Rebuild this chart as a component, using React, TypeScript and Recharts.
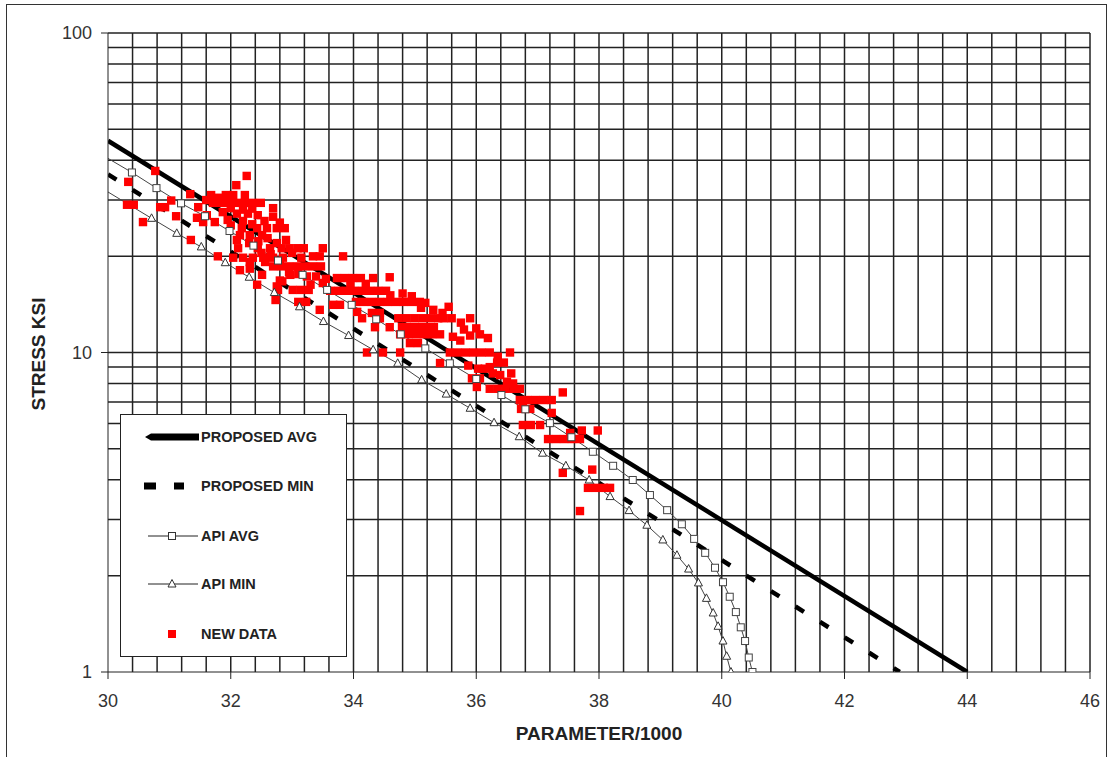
import { ComposedChart, Line, Scatter, XAxis, YAxis, ReferenceLine } from 'recharts';

const FONT = '"Liberation Sans", Arial, sans-serif';

// axis ticks and grid
const X_TICKS = [30, 32, 34, 36, 38, 40, 42, 44, 46];
const Y_TICKS = [1, 10, 100];
const GRID_X = [
  30.4, 30.8, 31.2, 31.6, 32, 32.4, 32.8, 33.2, 33.6, 34, 34.4, 34.8, 35.2, 35.6, 36,
  36.4, 36.8, 37.2, 37.6, 38, 38.4, 38.8, 39.2, 39.6, 40, 40.4, 40.8, 41.2, 41.6, 42,
  42.4, 42.8, 43.2, 43.6, 44, 44.4, 44.8, 45.2, 45.6, 46,
];
const GRID_Y = [2, 3, 4, 5, 6, 7, 8, 9, 10, 20, 30, 40, 50, 60, 70, 80, 90, 100];

// [parameter/1000, stress ksi]
const PROPOSED_AVG: [number, number][] = [[30, 46], [44, 1]];
const PROPOSED_MIN: [number, number][] = [[30, 36.1], [42.9, 1]];

const API_AVG: [number, number][] = [
  [30, 40.5], [30.39, 36.6], [30.79, 32.7], [31.19, 29.3], [31.58, 26.7], [31.98, 24.0],
  [32.37, 21.6], [32.77, 19.4], [33.17, 17.5], [33.57, 15.7], [33.97, 14.1], [34.37, 12.7],
  [34.77, 11.4], [35.17, 10.3], [35.57, 9.25], [36.0, 8.26], [36.41, 7.36], [36.8, 6.64],
  [37.2, 6.01], [37.55, 5.43], [37.9, 4.89], [38.23, 4.42], [38.55, 3.99], [38.83, 3.58],
  [39.11, 3.21], [39.35, 2.9], [39.55, 2.61], [39.73, 2.36], [39.89, 2.12], [40.02, 1.91],
  [40.13, 1.72], [40.23, 1.54], [40.31, 1.38], [40.38, 1.25], [40.44, 1.11], [40.5, 1.0],
];

const API_MIN: [number, number][] = [
  [30, 31.8], [30.71, 26.3], [31.12, 23.6], [31.52, 21.4], [31.91, 19.1], [32.3, 17.2],
  [32.71, 15.4], [33.12, 13.9], [33.51, 12.5], [33.92, 11.3], [34.32, 10.2], [34.72, 9.25],
  [35.11, 8.21], [35.51, 7.41], [35.9, 6.69], [36.29, 6.03], [36.7, 5.45], [37.08, 4.84],
  [37.46, 4.42], [37.84, 3.99], [38.18, 3.54], [38.49, 3.2], [38.78, 2.88], [39.04, 2.59],
  [39.27, 2.32], [39.46, 2.1], [39.62, 1.9], [39.75, 1.7], [39.86, 1.53], [39.94, 1.39],
  [40.02, 1.25], [40.08, 1.12], [40.15, 1.0],
];

const NEW_DATA: [number, number][] = [
  [30.31, 29.0], [30.42, 29.0], [30.33, 34.2], [30.77, 37.0], [30.57, 25.6], [30.85, 28.5],
  [30.93, 28.5], [31.03, 29.9], [31.11, 26.7], [31.34, 31.3], [31.35, 22.5],
  [31.68, 31.1], [31.92, 31.1], [32.04, 31.1], [32.23, 31.1], [32.09, 33.4], [32.26, 35.7],
  [31.71, 29.4], [31.84, 29.4], [31.97, 29.4], [32.1, 29.4], [32.23, 29.4], [32.36, 29.4], [32.49, 29.4],
  [32.69, 28.3], [31.6, 30.0], [31.8, 30.5], [32.0, 28.3], [32.2, 28.0], [32.35, 28.2],
  [31.47, 28.5], [31.45, 26.4], [31.61, 26.9], [31.55, 25.6], [31.74, 25.6], [31.87, 27.5],
  [32.1, 27.2], [32.28, 27.2], [32.44, 26.9], [32.69, 26.6],
  [31.95, 26.0], [32.2, 25.8], [32.35, 25.2], [32.0, 25.0], [32.55, 25.8], [32.8, 25.5],
  [32.18, 24.5], [32.43, 24.5], [32.59, 24.5], [32.75, 24.5], [32.88, 24.5],
  [32.1, 22.5], [32.15, 23.3], [32.31, 23.3], [32.51, 23.3],
  [32.3, 22.0], [32.45, 22.3], [32.6, 22.8], [32.75, 22.0], [32.9, 22.5],
  [32.12, 21.2], [32.44, 21.2], [32.64, 21.2], [32.83, 21.2], [32.96, 21.2], [33.09, 21.2],
  [33.19, 21.2], [33.5, 21.2],
  [31.79, 20.0], [32.04, 19.8], [32.2, 19.8], [32.36, 19.8], [32.53, 19.8], [32.69, 19.8],
  [32.85, 19.8], [33.34, 20.0], [33.45, 20.0], [33.83, 20.0],
  [32.5, 20.5], [32.65, 20.3], [33.0, 20.5], [33.15, 19.8],
  [32.31, 19.2], [32.56, 19.2], [32.8, 19.2],
  [32.15, 18.1], [32.31, 18.3], [32.69, 18.6], [32.82, 18.6], [32.95, 18.6], [33.08, 18.6],
  [33.21, 18.6], [33.34, 18.6], [33.47, 18.6],
  [32.51, 17.5], [32.97, 17.5], [32.95, 17.8], [33.1, 17.6], [33.55, 17.0],
  [32.43, 16.3], [32.75, 16.1], [32.8, 16.8], [33.24, 17.3], [33.39, 17.3], [33.73, 17.1],
  [33.86, 17.1], [33.99, 17.1], [34.12, 17.1], [34.32, 17.1], [34.59, 17.2], [32.84, 16.7],
  [32.77, 15.7], [33.3, 16.3], [33.5, 16.5], [33.95, 16.2], [34.2, 16.4],
  [33.01, 15.7], [33.14, 15.7], [33.27, 15.7], [33.62, 15.6], [33.75, 15.6], [33.88, 15.6],
  [34.01, 15.6], [34.14, 15.6], [34.27, 15.6], [34.4, 15.6], [34.53, 15.6],
  [34.6, 15.1], [34.8, 15.3], [34.95, 15.0],
  [32.73, 14.6], [33.1, 14.4], [33.23, 14.4], [33.45, 13.6], [33.67, 14.1], [33.78, 14.1],
  [34.04, 14.4], [34.17, 14.4], [34.3, 14.4], [34.43, 14.4], [34.56, 14.4], [34.69, 14.4],
  [34.82, 14.4], [34.95, 14.4], [35.08, 14.4], [35.17, 14.3],
  [34.06, 13.4], [34.14, 12.8], [34.3, 13.3], [34.43, 13.3], [34.43, 12.8],
  [35.1, 13.8], [35.3, 13.6], [35.45, 13.3], [35.55, 13.9],
  [34.73, 12.8], [34.86, 12.8], [34.99, 12.8], [35.12, 12.8], [35.25, 12.8], [35.38, 12.8],
  [35.47, 12.8], [35.6, 12.8], [35.9, 12.8], [35.75, 12.4],
  [34.35, 12.0], [34.59, 12.0], [34.79, 12.0], [34.92, 12.0], [35.05, 12.0], [35.18, 12.0], [35.31, 12.0],
  [35.8, 11.8], [36.0, 11.9],
  [34.76, 11.4], [34.89, 11.4], [35.02, 11.4], [35.15, 11.4], [35.28, 11.4], [35.41, 11.4],
  [35.62, 11.2], [35.74, 10.9], [35.9, 11.3], [36.06, 11.4], [36.19, 11.1],
  [34.92, 10.7], [35.05, 10.7],
  [34.22, 10.0], [34.48, 10.0], [34.76, 10.0],
  [35.57, 10.0], [35.7, 10.0], [35.83, 10.0], [35.96, 10.0], [36.09, 10.0], [36.22, 10.0], [36.55, 10.0],
  [35.41, 9.27], [36.35, 9.7], [36.45, 9.3],
  [35.87, 9.1], [36.03, 8.9], [36.22, 9.0], [36.34, 9.3], [35.93, 8.3], [36.06, 8.3], [36.01, 7.8],
  [36.14, 8.9], [36.27, 8.6], [36.39, 8.5], [36.57, 8.6], [36.5, 8.1], [36.6, 8.0],
  [36.22, 7.7], [36.35, 7.7], [36.48, 7.7], [36.61, 7.7], [36.71, 7.7],
  [36.71, 7.1], [36.84, 7.1], [36.97, 7.1], [37.1, 7.1], [37.23, 7.1],
  [36.76, 6.8], [36.73, 6.66], [36.88, 6.66], [37.23, 6.47],
  [36.76, 5.93], [36.89, 5.93], [37.04, 5.93],
  [37.41, 7.5],
  [37.17, 5.36], [37.3, 5.36], [37.43, 5.36], [37.56, 5.36], [37.69, 5.36],
  [37.53, 5.6], [37.72, 5.7], [37.98, 5.7],
  [37.89, 4.3], [37.41, 4.2],
  [37.82, 3.77], [37.95, 3.77], [38.08, 3.77], [38.18, 3.77],
  [37.69, 3.19],
];

const toRows = (pts: [number, number][]) => pts.map(([x, y]) => ({ x, y }));

const squareDot = (props: any) => {
  const { cx, cy, index } = props;
  if (index === 0 || cx == null) return <g key={`s${index}`} />;
  return <rect key={`s${index}`} x={cx - 3.5} y={cy - 3.5} width={7} height={7} fill="#fff" stroke="#444" strokeWidth={1} />;
};

const triangleDot = (props: any) => {
  const { cx, cy, index } = props;
  if (index === 0 || cx == null) return <g key={`t${index}`} />;
  return (
    <polygon
      key={`t${index}`}
      points={`${cx},${cy - 4.5} ${cx - 4},${cy + 3} ${cx + 4},${cy + 3}`}
      fill="#fff"
      stroke="#333"
      strokeWidth={1}
    />
  );
};

const redSquare = (props: any) => {
  const { cx, cy } = props;
  return <rect x={cx - 4.2} y={cy - 4.2} width={8.4} height={8.4} fill="#ff0000" />;
};

function LegendBox() {
  const text = { fontFamily: FONT, fontSize: 14.5, fontWeight: 700, fill: '#222' } as const;
  return (
    <div style={{
      position: 'absolute', left: 120, top: 414, width: 227, height: 243,
      border: '1.5px solid #222', background: '#fff', boxSizing: 'border-box',
    }}>
      <svg width={227} height={243} style={{ position: 'absolute', left: -1.5, top: -1.5 }}>
        <polygon points="25,23 31,19.5 79,19.5 79,26.5 31,26.5" fill="#000" />
        <text x={81} y={23} dominantBaseline="central" {...text}>PROPOSED AVG</text>

        <rect x={24} y={68.5} width={12} height={7} fill="#000" />
        <rect x={54} y={68.5} width={10} height={7} fill="#000" />
        <text x={81} y={72} dominantBaseline="central" {...text}>PROPOSED MIN</text>

        <line x1={28} x2={78} y1={122} y2={122} stroke="#222" strokeWidth={1} />
        <rect x={48.5} y={118.5} width={7} height={7} fill="#fff" stroke="#333" />
        <text x={81} y={122} dominantBaseline="central" {...text}>API AVG</text>

        <line x1={28} x2={78} y1={170} y2={170} stroke="#222" strokeWidth={1} />
        <polygon points="52,165.5 48,173 56,173" fill="#fff" stroke="#333" />
        <text x={81} y={170} dominantBaseline="central" {...text}>API MIN</text>

        <rect x={48} y={216} width={8} height={8} fill="#ff0000" />
        <text x={81} y={220} dominantBaseline="central" {...text}>NEW DATA</text>
      </svg>
    </div>
  );
}

export default function App() {
  const tick = { fontSize: 18, fill: '#333', fontFamily: FONT };
  return (
    <div style={{ position: 'absolute', left: 0, top: 0, width: 1110, height: 757, background: '#fff', overflow: 'hidden' }}>
      <ComposedChart width={1110} height={757} margin={{ top: 33, right: 20, left: 0, bottom: 0 }}>
        <XAxis
          type="number"
          dataKey="x"
          domain={[30, 46]}
          ticks={X_TICKS}
          allowDataOverflow
          height={85}
          tick={tick}
          tickSize={7}
          tickMargin={15}
          stroke="#222"
          tickLine={{ stroke: '#222' }}
        />
        <YAxis
          type="number"
          dataKey="y"
          scale="log"
          domain={[1, 100]}
          ticks={Y_TICKS}
          allowDataOverflow
          width={108}
          tick={tick}
          tickSize={7}
          tickMargin={9}
          stroke="#222"
          tickLine={{ stroke: '#222' }}
        />
        {GRID_X.map((v) => (
          <ReferenceLine key={`gx${v}`} x={v} stroke="#222" strokeWidth={1.5} />
        ))}
        {GRID_Y.map((v) => (
          <ReferenceLine key={`gy${v}`} y={v} stroke="#222" strokeWidth={1.5} />
        ))}
        <Scatter data={toRows(NEW_DATA)} dataKey="y" shape={redSquare} isAnimationActive={false} />
        <Line
          data={toRows(API_MIN)}
          dataKey="y"
          type="linear"
          stroke="#444"
          strokeWidth={1}
          dot={triangleDot}
          isAnimationActive={false}
        />
        <Line
          data={toRows(API_AVG)}
          dataKey="y"
          type="linear"
          stroke="#444"
          strokeWidth={1}
          dot={squareDot}
          isAnimationActive={false}
        />
        <Line
          data={toRows(PROPOSED_MIN)}
          dataKey="y"
          type="linear"
          stroke="#000"
          strokeWidth={4.5}
          strokeDasharray="10 19"
          dot={false}
          isAnimationActive={false}
        />
        <Line
          data={toRows(PROPOSED_AVG)}
          dataKey="y"
          type="linear"
          stroke="#000"
          strokeWidth={4.5}
          dot={false}
          isAnimationActive={false}
        />
      </ComposedChart>

      <div style={{
        position: 'absolute', left: 39, top: 354, transform: 'translate(-50%, -50%) rotate(-90deg)',
        fontFamily: FONT, fontSize: 19, fontWeight: 700, color: '#222', whiteSpace: 'nowrap',
      }}>
        STRESS KSI
      </div>
      <div style={{
        position: 'absolute', left: 599, top: 734, transform: 'translate(-50%, -50%)',
        fontFamily: FONT, fontSize: 19, fontWeight: 700, color: '#222', whiteSpace: 'nowrap',
      }}>
        PARAMETER/1000
      </div>
      <LegendBox />
      <div style={{
        position: 'absolute', left: 6, top: 4, width: 1101, height: 770,
        border: '1.5px solid #333', boxSizing: 'border-box', pointerEvents: 'none',
      }} />
    </div>
  );
}
